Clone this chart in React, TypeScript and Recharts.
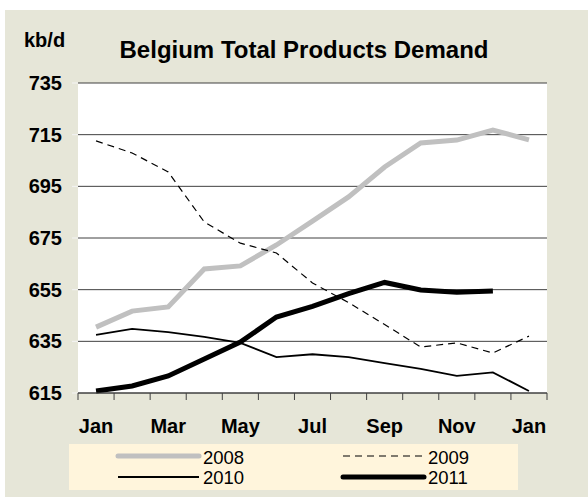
import { LineChart, Line, XAxis, YAxis, CartesianGrid } from "recharts";

const months = ["Jan", "Feb", "Mar", "Apr", "May", "Jun", "Jul", "Aug", "Sep", "Oct", "Nov", "Dec", "Jan"];
const y2008 = [640.5, 646.7, 648.3, 663, 664.2, 672.3, 681.5, 690.9, 702.5, 711.8, 712.9, 716.8, 713];
const y2009 = [712.6, 707.9, 700.6, 681.2, 673, 669.2, 657.6, 650, 641.5, 632.8, 634.4, 630.5, 637];
const y2010 = [637.5, 639.8, 638.6, 636.7, 634.4, 628.9, 630, 628.9, 626.6, 624.3, 621.6, 623, 615.8];
const y2011 = [615.8, 617.7, 621.6, 628.2, 634.7, 644.4, 648.5, 653.5, 657.8, 654.9, 654, 654.5, null];
const yTicks = [615, 635, 655, 675, 695, 715, 735];

const series = [
  { key: "y2008", name: "2008", color: "#c0c0c0", width: 5, dash: undefined },
  { key: "y2009", name: "2009", color: "#000000", width: 1.2, dash: "7 5" },
  { key: "y2010", name: "2010", color: "#000000", width: 1.8, dash: undefined },
  { key: "y2011", name: "2011", color: "#000000", width: 5, dash: undefined },
];

const data = months.map((m, i) => ({
  idx: i,
  y2008: y2008[i],
  y2009: y2009[i],
  y2010: y2010[i],
  y2011: y2011[i],
}));

const FONT = "'Liberation Sans', Arial, sans-serif";
const PLOT_LEFT = 78;
const PLOT_W = 469;
const BAND = PLOT_W / months.length;

const MonthTick = (props: any) => {
  const { x, y, payload, index } = props;
  const last = index === months.length - 1;
  return (
    <g>
      <line x1={x - BAND / 2} x2={x - BAND / 2} y1={y} y2={y + 7} stroke="#404040" />
      {last && <line x1={x + BAND / 2} x2={x + BAND / 2} y1={y} y2={y + 7} stroke="#404040" />}
      {index % 2 === 0 && (
        <text x={x} y={y + 40} textAnchor="middle" fontFamily={FONT} fontWeight="bold" fontSize={20} fill="#000">
          {months[payload.value]}
        </text>
      )}
    </g>
  );
};

const App = () => {
  return (
    <div style={{ position: "absolute", left: 0, top: 0, width: 588, height: 497, background: "#fff", fontFamily: FONT }}>
      <div style={{ position: "absolute", left: 5, top: 10, width: 583, height: 487, background: "#e6e6d8" }} />
      <div style={{ position: "absolute", left: PLOT_LEFT, top: 83, width: PLOT_W, height: 310, background: "#fff" }} />
      <div style={{ position: "absolute", left: 0, top: 0 }}>
        <LineChart width={588} height={497} data={data} margin={{ top: 83, right: 41, bottom: 0, left: 0 }}>
          <CartesianGrid vertical={false} stroke="#404040" strokeWidth={1} />
          <XAxis
            dataKey="idx"
            type="category"
            interval={0}
            padding={{ left: BAND / 2, right: BAND / 2 }}
            tickSize={0}
            tickMargin={0}
            tickLine={false}
            axisLine={{ stroke: "#404040" }}
            tick={<MonthTick />}
            height={104}
          />
          <YAxis
            domain={[615, 735]}
            ticks={yTicks}
            width={PLOT_LEFT}
            axisLine={false}
            tickSize={6}
            tickMargin={10}
            tickLine={{ stroke: "#f4f4f4" }}
            tick={{ fill: "#000", fontSize: 20, fontWeight: "bold", fontFamily: FONT }}
          />
          {series.map((s) => (
            <Line
              key={s.key}
              dataKey={s.key}
              type="linear"
              stroke={s.color}
              strokeWidth={s.width}
              strokeDasharray={s.dash}
              dot={false}
              isAnimationActive={false}
            />
          ))}
        </LineChart>
      </div>
      <div style={{ position: "absolute", left: 24, top: 28, fontSize: 20, fontWeight: "bold", color: "#000", lineHeight: "24px" }}>
        kb/d
      </div>
      <div style={{ position: "absolute", left: 104, width: 400, top: 36, textAlign: "center", fontSize: 24, fontWeight: "bold", color: "#000", lineHeight: "28px" }}>
        Belgium Total Products Demand
      </div>
      <svg style={{ position: "absolute", left: 69, top: 444 }} width={449} height={46}>
        <rect x={0} y={0} width={449} height={46} fill="#fff5dc" />
        {series.map((s, i) => {
          const col = i % 2;
          const row = Math.floor(i / 2);
          const lx = col === 0 ? 49 : 274;
          const ly = row === 0 ? 12 : 33;
          return (
            <g key={s.key}>
              <line x1={lx} x2={lx + 81} y1={ly} y2={ly} stroke={s.color} strokeWidth={s.width} strokeDasharray={s.dash} strokeLinecap={s.width > 3 ? "round" : "butt"} />
              <text x={lx + 85} y={row === 0 ? 20 : 40} fontFamily={FONT} fontSize={18.5} fill="#000">
                {s.name}
              </text>
            </g>
          );
        })}
      </svg>
    </div>
  );
};

export default App;
